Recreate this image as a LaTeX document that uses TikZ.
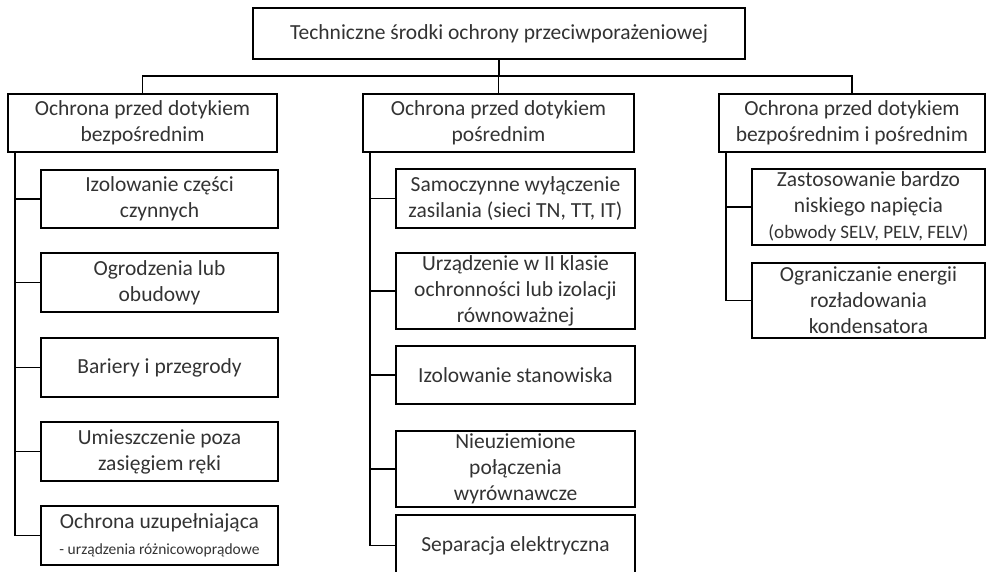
\documentclass[tikz,border=0pt]{standalone}
\usepackage{fontspec}
\setmainfont{Carlito}

\begin{document}
\begin{tikzpicture}
[x=1pt,y=-1pt,
 boxDecorate/.style={shape=rectangle,draw,line width=1.9pt,align=center,inner sep=0pt,
   text=black!80,font=\fontsize{21.5}{26}\selectfont}]
\useasboundingbox (0,0) rectangle (986,572);
%% top box
\node (top) at (499,33.5) [boxDecorate,minimum width=492,minimum height=51]
  {Techniczne środki ochrony przeciwporażeniowej};
%% main groups
\foreach \nodename/\x/\w/\boxtext in {
  a/142.5/269/{Ochrona przed dotykiem\\bezpośrednim},
  b/498.5/271/{Ochrona przed dotykiem\\pośrednim},
  c/852/266/{Ochrona przed dotykiem\\bezpośrednim i pośrednim}}
{
  \node (\nodename) at (\x,123) [boxDecorate,minimum width=\w,minimum height=58] {\boxtext};
}
%% measures
\foreach \nodename/\x/\y/\w/\h/\boxtext in {
  a1/159.5/199/237/58/{Izolowanie części\\czynnych},
  a2/159.5/282.5/237/59/{Ogrodzenia lub\\obudowy},
  a3/159.5/367.5/237/59/{Bariery i przegrody},
  a4/159.5/451.5/237/59/{Umieszczenie poza\\zasięgiem ręki},
  a5/159.5/535.5/237/59/{Ochrona uzupełniająca\\{\fontsize{15.5}{20}\selectfont - urządzenia różnicowoprądowe}},
  b1/515.5/198.5/239/59/{Samoczynne wyłączenie\\zasilania (sieci TN, TT, IT)},
  b2/515.5/291/239/76/{Urządzenie w II klasie\\ochronności lub izolacji\\równoważnej},
  b3/515.5/375/239/58/{Izolowanie stanowiska},
  b4/515.5/469/239/76/{Nieuziemione\\połączenia\\wyrównawcze},
  b5/515.5/545.5/239/61/{Separacja elektryczna},
  c1/868.5/207/233/76/{Zastosowanie bardzo\\niskiego napięcia\\{\fontsize{19}{22}\selectfont (obwody SELV, PELV, FELV)}},
  c2/868.5/300.5/233/75/{Ograniczanie energii\\rozładowania\\kondensatora}}
{
  \node (\nodename) at (\x,\y) [boxDecorate,minimum width=\w,minimum height=\h] {\boxtext};
}
%% lines
\tikzstyle{lineStyle}=[line width=1.8pt]
\coordinate (bus) at (497,76);
\draw[lineStyle] (top.south) -- (top.south |- bus);
\foreach \nodename in {a,b,c}
{
  \draw[lineStyle] (top.south |- bus) -| (\nodename.north);
}
\foreach \parent/\child in {a/a1, a/a2, a/a3, a/a4, a/a5,
  b/b1, b/b2, b/b3, b/b4, b/b5, c/c1, c/c2}
{
  \draw[lineStyle] ([xshift=8]\parent.south west) |- (\child.west);
}
\end{tikzpicture}
\end{document}
